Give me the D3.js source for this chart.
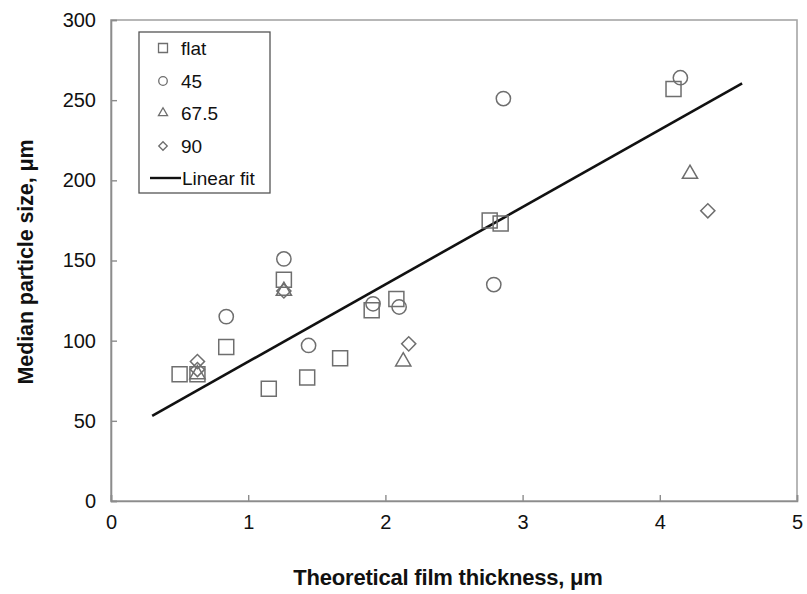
<!DOCTYPE html>
<html>
<head>
<meta charset="utf-8">
<script src="https://cdn.jsdelivr.net/npm/d3@7"></script>
<style>
  html, body { margin: 0; padding: 0; background: #fff; }
  svg { display: block; font-family: "Liberation Sans", Arial, sans-serif; }
</style>
</head>
<body>
<svg id="chart" width="807" height="594"></svg>
<script>
// ---- data ----
const xTicks = [0, 1, 2, 3, 4, 5];
const yTicks = [0, 50, 100, 150, 200, 250, 300];

const flatX = [0.50, 0.63, 0.84, 1.15, 1.26, 1.43, 1.67, 1.90, 2.08, 2.76, 2.84, 4.10];
const flatY = [79, 79, 96, 70, 138, 77, 89, 119, 126, 175, 173, 257];

const deg45X = [0.84, 1.26, 1.44, 1.91, 2.10, 2.79, 2.86, 4.15];
const deg45Y = [115, 151, 97, 123, 121, 135, 251, 264];

const deg675X = [0.63, 1.26, 2.13, 4.22];
const deg675Y = [79, 131, 87, 204];

const deg90X = [0.63, 0.63, 1.26, 2.17, 4.35];
const deg90Y = [87, 82, 131, 98, 181];

const fitSlope = 48.2;
const fitIntercept = 38.7;
const fitRange = [0.3, 4.6];

const legendLabels = ["flat", "45", "67.5", "90", "Linear fit"];

// ---- layout ----
const svg = d3.select("#chart");
const pL = 111, pR = 797, pT = 20, pB = 501;

const x = d3.scaleLinear().domain([0, 5]).range([pL, pR]);
const y = d3.scaleLinear().domain([0, 300]).range([pB, pT]);

const axisColor = "#8c8c8c";
const markColor = "#6e6e6e";

// frame (top & right)
svg.append("rect")
  .attr("x", pL).attr("y", pT)
  .attr("width", pR - pL).attr("height", pB - pT)
  .attr("fill", "none").attr("stroke", "#a6a6a6").attr("stroke-width", 1.6);

// axes
const xAxis = d3.axisBottom(x).tickValues(xTicks).tickSize(-6).tickPadding(14).tickFormat(d3.format("d"));
const yAxis = d3.axisLeft(y).tickValues(yTicks).tickSize(-6).tickPadding(14).tickFormat(d3.format("d"));

const gx = svg.append("g").attr("transform", `translate(0,${pB})`).call(xAxis);
const gy = svg.append("g").attr("transform", `translate(${pL},0)`).call(yAxis);

[gx, gy].forEach(g => {
  g.select(".domain").attr("stroke", axisColor).attr("stroke-width", 1.6);
  g.selectAll(".tick line").attr("stroke", axisColor).attr("stroke-width", 1.4);
  g.selectAll(".tick text").attr("fill", "#111").style("font-size", "20px")
    .style("font-family", "'Liberation Sans', Arial, sans-serif");
});
gx.selectAll(".tick text").attr("dy", "0.71em").attr("y", 14);
gy.selectAll(".tick text").attr("x", -15);

// axis titles
svg.append("text")
  .attr("x", 448).attr("y", 585)
  .attr("text-anchor", "middle")
  .style("font-size", "22px").style("font-weight", "bold")
  .style("letter-spacing", "-0.2px")
  .attr("fill", "#111")
  .text("Theoretical film thickness, \u03bcm");

svg.append("text")
  .attr("transform", "translate(33,262) rotate(-90)")
  .attr("text-anchor", "middle")
  .style("font-size", "21.5px").style("font-weight", "bold")
  .style("letter-spacing", "-0.1px")
  .attr("fill", "#111")
  .text("Median particle size, \u03bcm");

// fit line
svg.append("line")
  .attr("x1", x(fitRange[0])).attr("y1", y(fitIntercept + fitSlope * fitRange[0]))
  .attr("x2", x(fitRange[1])).attr("y2", y(fitIntercept + fitSlope * fitRange[1]))
  .attr("stroke", "#111").attr("stroke-width", 2.6);

// symbols
const symDefs = [
  { type: d3.symbolSquare, size: 225, rot: 0 },
  { type: d3.symbolCircle, size: 160, rot: 0 },
  { type: d3.symbolTriangle, size: 100, rot: 0 },
  { type: d3.symbolSquare, size: 100, rot: 45 }
];
const seriesX = [flatX, deg45X, deg675X, deg90X];
const seriesY = [flatY, deg45Y, deg675Y, deg90Y];

seriesX.forEach((xs, si) => {
  const def = symDefs[si];
  const path = d3.symbol().type(def.type).size(def.size)();
  const pts = xs.map((v, i) => [v, seriesY[si][i]]);
  svg.append("g").selectAll("path").data(pts).join("path")
    .attr("d", path)
    .attr("transform", d => `translate(${x(d[0])},${y(d[1])}) rotate(${def.rot})`)
    .attr("fill", "none").attr("stroke", markColor).attr("stroke-width", 1.5);
});

// legend
const lg = svg.append("g");
lg.append("rect")
  .attr("x", 139).attr("y", 32).attr("width", 131).attr("height", 161)
  .attr("fill", "#fff").attr("stroke", "#555").attr("stroke-width", 1.3);

const rowY = [48, 81, 113, 146, 178];
legendLabels.forEach((lab, i) => {
  if (i < 4) {
    const def = symDefs[i];
    lg.append("path")
      .attr("d", d3.symbol().type(def.type).size(def.size * 0.36)())
      .attr("transform", `translate(163,${rowY[i]}) rotate(${def.rot})`)
      .attr("fill", "none").attr("stroke", markColor).attr("stroke-width", 1.3);
  } else {
    lg.append("line")
      .attr("x1", 150).attr("x2", 181).attr("y1", rowY[i]).attr("y2", rowY[i])
      .attr("stroke", "#111").attr("stroke-width", 2.4);
  }
  lg.append("text")
    .attr("x", i < 4 ? 181 : 182).attr("y", rowY[i])
    .attr("dy", "0.35em")
    .style("font-size", "19px")
    .attr("fill", "#111")
    .text(lab);
});
</script>
</body>
</html>
